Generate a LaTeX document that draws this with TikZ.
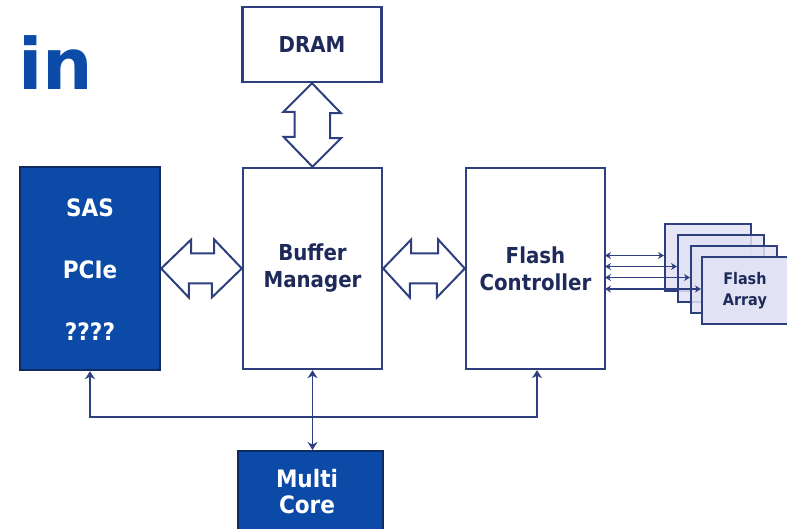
\documentclass[tikz,border=0pt]{standalone}
\usepackage{fontspec}
\usetikzlibrary{arrows.meta,calc}
\newfontfamily\lab[FakeStretch=0.9]{DejaVu Sans}
\newfontfamily\bigfnt{DejaVu Sans}
\definecolor{navy}{HTML}{2E3F7F}
\definecolor{ink}{HTML}{1E2A5A}
\definecolor{blk}{HTML}{0B4AA6}
\definecolor{blkedge}{HTML}{0F2A60}
\definecolor{lav}{HTML}{E2E2F5}
\definecolor{inblue}{HTML}{0D4BA8}
\begin{document}
\begin{tikzpicture}[x=1pt,y=-1pt,
  wbox/.style={draw=navy,line width=2.4pt,fill=white,inner sep=0pt,align=center,text=ink,font=\lab\bfseries\fontsize{22}{27}\selectfont},
  bbox/.style={draw=blkedge,line width=2.4pt,fill=blk,inner sep=0pt,align=center,text=white,font=\lab\bfseries\fontsize{24}{29}\selectfont},
  wtext/.style={text=white,font=\lab\bfseries\fontsize{24}{29}\selectfont,inner sep=0pt,align=center},
  fbox/.style={draw=navy,line width=1.8pt,fill=lav,inner sep=0pt,minimum width=86pt,minimum height=67pt,align=center,text=ink,font=\lab\bfseries\fontsize{16}{21}\selectfont},
  barrow/.style={draw=navy,line width=2pt,fill=white,line join=miter},
  conn/.style={draw=navy,line width=1.8pt,{Stealth[length=8pt,width=10pt]}-{Stealth[length=8pt,width=10pt]}},
  fconn/.style={draw=navy,line width=1.4pt,{Stealth[length=6pt,width=7pt]}-{Stealth[length=6pt,width=7pt]}}
]
\useasboundingbox (0,0) rectangle (787,529);
\fill[white] (0,0) rectangle (787,529);

\node[text=inblue,font=\bigfnt\bfseries\fontsize{71}{80}\selectfont,anchor=base west,inner sep=0pt] (title) at (18,90) {in};

\node[wbox,minimum width=139pt,minimum height=75pt] (dram) at (312,44.5) {DRAM};
\node[bbox,minimum width=140pt,minimum height=203pt] (sas) at (90,268.5) {};
\node[wtext] (t1) at (90,208) {SAS};
\node[wtext] (t2) at (90,270) {PCIe};
\node[wtext] (t3) at (90,332) {????};
\node[wbox,minimum width=139pt,minimum height=201pt] (bm) at (312.5,268.5) {Buffer\\Manager};
\node[wbox,minimum width=139pt,minimum height=201pt] (fc) at (535.5,268.5) {Flash\\Controller};
\node[bbox,minimum width=145pt,minimum height=100pt,anchor=north] (mc) at (310.5,450) {};
\node[wtext] (mct) at (307,492) {Multi\\[-3pt]Core};

% vertical block arrow DRAM <-> BM
\path (dram.south) coordinate (vt);
\path (bm.north) coordinate (vb);
\draw[barrow] (vt) -- ++(29,30) -- ++(-11,0) -- ++(0,25) -- ++(11,0) -- (vb) -- ++(-29,-30) -- ++(11,0) -- ++(0,-25) -- ++(-11,0) -- cycle;

% horizontal block arrows
\path (sas.east) coordinate (h1l);
\draw[barrow] (h1l) -- ++(30,-29) -- ++(0,14) -- ++(23,0) -- ++(0,-14) -- ($(bm.west)$) -- ++(-30,29) -- ++(0,-14) -- ++(-23,0) -- ++(0,14) -- cycle;
\path (bm.east) coordinate (h2l);
\draw[barrow] (h2l) -- ++(28,-29) -- ++(0,14) -- ++(27,0) -- ++(0,-14) -- ($(fc.west)$) -- ++(-28,29) -- ++(0,-14) -- ++(-27,0) -- ++(0,14) -- cycle;

% flash connectors
\coordinate (fo1) at (605,255.5);
\coordinate (fo2) at (605,266.5);
\coordinate (fo3) at (605,277.5);
\coordinate (fo4) at (605,289);

\node[fbox,anchor=north west,fill opacity=0.85] (fa1) at (664,223) {};
\node[fbox,anchor=north west,fill opacity=0.85] (fa2) at (677,234) {};
\node[fbox,anchor=north west,fill opacity=0.85] (fa3) at (690,245) {};
\node[fbox,anchor=north west] (fa4) at (701,256) {Flash\\Array};

\draw[fconn] (fo1) -- (fo1 -| fa1.west);
\draw[fconn] (fo2) -- (fo2 -| fa2.west);
\draw[fconn] (fo3) -- (fo3 -| fa3.west);
\draw[fconn] (fo4) -- (fo4 -| fa4.west);

% bus
\coordinate (b1) at (90,417);
\coordinate (b2) at (537,417);
\draw[conn] (sas.south -| b1) -- (b1) -- (b2) -- (fc.south -| b2);
\draw[conn] (bm.south) -- (bm.south |- mc.north);
\end{tikzpicture}
\end{document}
